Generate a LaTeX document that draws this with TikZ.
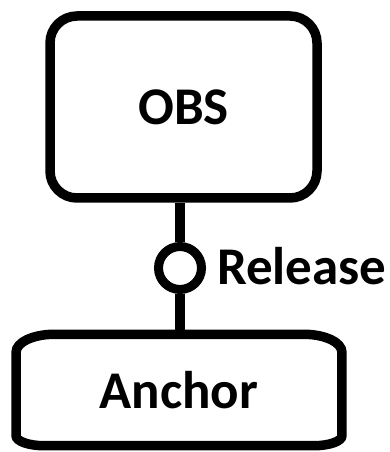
\documentclass[tikz,border=0pt]{standalone}
\usepackage{fontspec}
\setmainfont{Carlito}
\usetikzlibrary{calc}
\begin{document}
\begin{tikzpicture}[x=1pt,y=1pt,
  lbl/.style={font=\fontsize{53}{60}\selectfont\bfseries},
  box/.style={draw, line width=9.5pt, rounded corners=27pt, inner sep=0pt},
  wire/.style={line width=9.5pt},
  ring/.style={circle, draw, line width=9pt, minimum size=43pt, inner sep=0pt, fill=white}]
\useasboundingbox (0,0) rectangle (389,452);
\node[box, lbl, minimum width=267pt, minimum height=182pt] (obs) at (183.5,345) {OBS};
\node[lbl, minimum width=325.5pt, minimum height=111pt, inner sep=0pt] (anc) at (179,62) {Anchor};
\draw[line width=9.5pt]
  ($(anc.north west)+(38,0)$) -- ($(anc.north east)+(-38,0)$)
  arc[start angle=90, end angle=0, x radius=38, y radius=18]
  -- ($(anc.south east)+(0,10)$)
  arc[start angle=0, end angle=-90, x radius=28, y radius=10]
  -- ($(anc.south west)+(28,0)$)
  arc[start angle=270, end angle=180, x radius=28, y radius=10]
  -- ($(anc.north west)+(0,-18)$)
  arc[start angle=180, end angle=90, x radius=38, y radius=18] -- cycle;
\node[ring] (rel) at (180,184) {};
\draw[wire] (obs.south -| rel) -- (rel.north);
\draw[wire] (rel.south) -- (anc.north -| rel);
\node[lbl, anchor=base west, inner sep=0pt] (rl) at (217,167) {Release};
\end{tikzpicture}
\end{document}
